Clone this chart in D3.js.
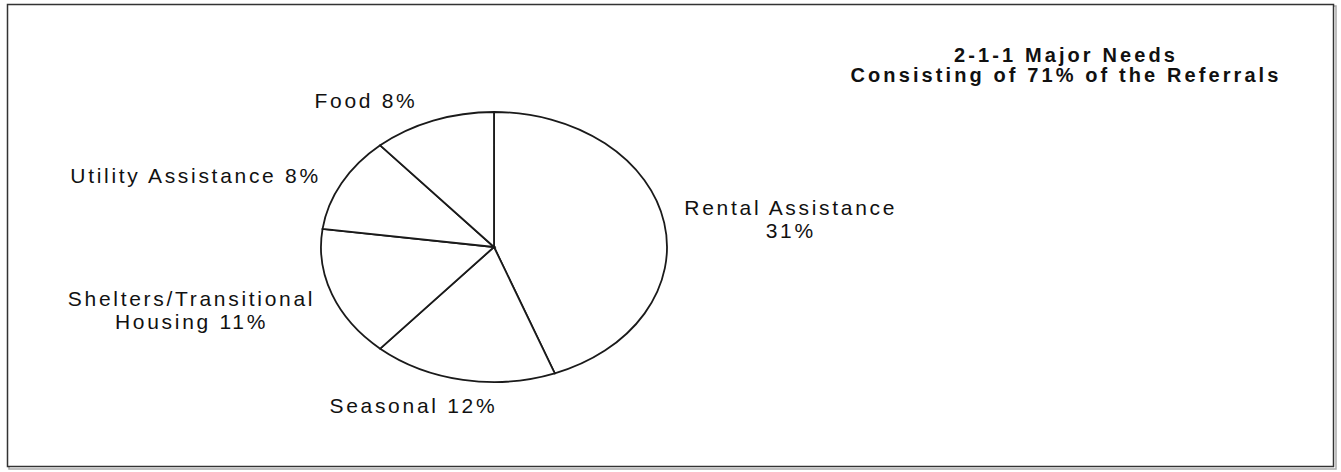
<!DOCTYPE html>
<html>
<head>
<meta charset="utf-8">
<script src="https://cdn.jsdelivr.net/npm/d3@7"></script>
<style>
  body { margin: 0; background: #fff; }
  svg text { font-family: "Liberation Sans", Arial, sans-serif; fill: #111; }
</style>
</head>
<body>
<div id="chart"></div>
<script>
var categories = ["Rental Assistance", "Seasonal", "Shelters/Transitional Housing", "Utility Assistance", "Food"];
var values = [31, 12, 11, 8, 8];
var labelLines = [
  ["Rental Assistance", "31%"],
  ["Seasonal 12%"],
  ["Shelters/Transitional", "Housing 11%"],
  ["Utility Assistance 8%"],
  ["Food 8%"]
];
var titleLines = ["2-1-1 Major Needs", "Consisting of 71% of the Referrals"];

var width = 1341, height = 472;
var cx = 494, cy = 247, rx = 173, ry = 135;

// hand-tuned label nudges (px) from the arc centroid
var nudge = {
  "Rental Assistance": [84, 2],
  "Seasonal": [-42, -7],
  "Shelters/Transitional Housing": [-100, 4],
  "Utility Assistance": [-108, 9],
  "Food": [-52, 12]
};

var svg = d3.select("#chart")
  .append("svg")
  .attr("width", width)
  .attr("height", height);

// frame with slight shadow
svg.append("rect")
  .attr("x", 9).attr("y", 6)
  .attr("width", 1327).attr("height", 463)
  .attr("fill", "none")
  .attr("stroke", "#aaa")
  .attr("stroke-width", 1.5);
svg.append("rect")
  .attr("x", 7.5).attr("y", 4.5)
  .attr("width", 1326).attr("height", 462)
  .attr("fill", "#fff")
  .attr("stroke", "#333")
  .attr("stroke-width", 1.5);

var data = categories.map((c, i) => ({ name: c, value: values[i], lines: labelLines[i] }));

var pie = d3.pie()
  .value(d => d.value)
  .sort(null);

var arcs = pie(data);

var arc = d3.arc().innerRadius(0).outerRadius(rx);
var labelArc = d3.arc().innerRadius(rx * 1.25).outerRadius(rx * 1.25);

var g = svg.append("g")
  .attr("transform", `translate(${cx}, ${cy}) scale(1, ${ry / rx})`);

g.selectAll(".slice")
  .data(arcs)
  .enter()
  .append("path")
  .attr("class", "slice")
  .attr("d", arc)
  .attr("fill", "#fff")
  .attr("stroke", "#1a1a1a")
  .attr("stroke-width", 1.8)
  .attr("vector-effect", "non-scaling-stroke");

var labels = svg.append("g").attr("class", "labels");

arcs.forEach(a => {
  var c = labelArc.centroid(a);
  var n = nudge[a.data.name];
  var x = cx + c[0] + n[0];
  var y = cy + c[1] * (ry / rx) + n[1];
  var lh = 23;
  var y0 = y - (a.data.lines.length - 1) * lh / 2;
  var t = labels.append("text")
    .attr("text-anchor", "middle")
    .attr("font-size", 21)
    .attr("letter-spacing", 2.7);
  a.data.lines.forEach((line, i) => {
    t.append("tspan")
      .attr("x", x)
      .attr("y", y0 + i * lh)
      .attr("dy", "0.35em")
      .text(line);
  });
});

var title = svg.append("text")
  .attr("text-anchor", "middle")
  .attr("font-size", 20)
  .attr("font-weight", "bold")
  .attr("letter-spacing", 3.1);
titleLines.forEach((line, i) => {
  title.append("tspan")
    .attr("x", 1066)
    .attr("y", 55 + i * 20)
    .attr("dy", "0.35em")
    .text(line);
});
</script>
</body>
</html>
